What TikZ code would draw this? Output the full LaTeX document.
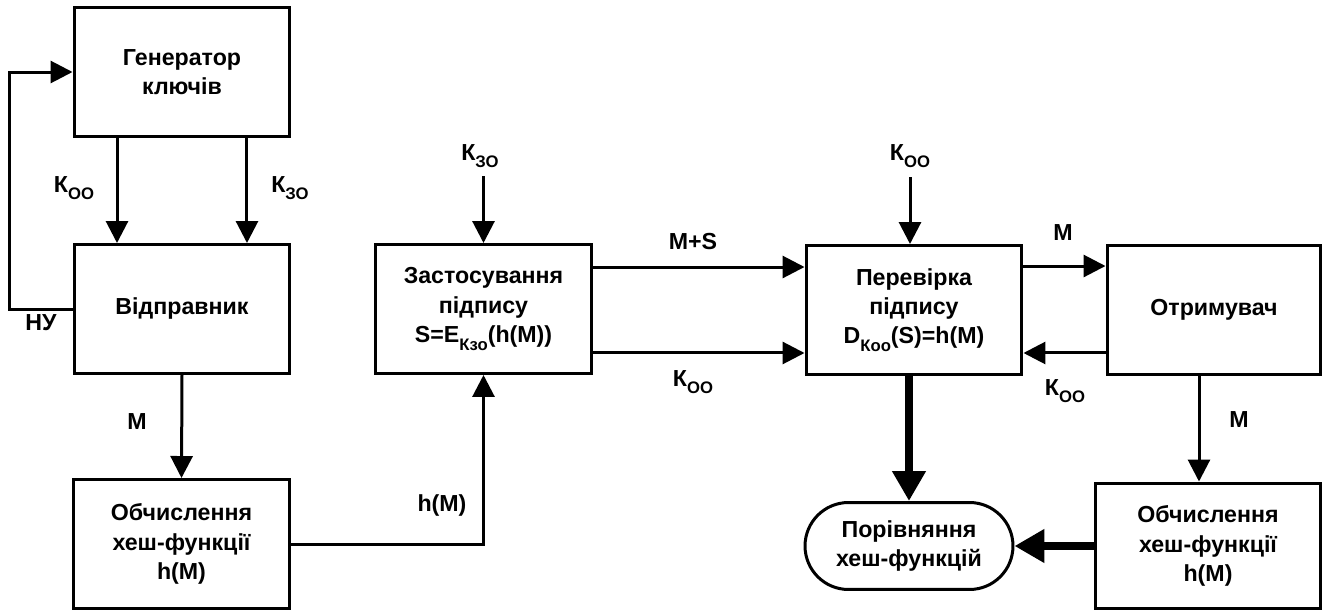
\documentclass[tikz,border=0pt]{standalone}
\usepackage{fontspec}
\setmainfont{Liberation Sans}
\usetikzlibrary{arrows.meta, positioning, calc}

\newcommand{\sbs}[1]{\raisebox{-0.32em}{\fontsize{9.5}{9.5}\selectfont #1}}

\tikzset{
  box/.style={draw, line width=0.06cm, fill=white, align=center,
    minimum width=4.32cm, minimum height=2.58cm, inner sep=2pt},
  term/.style={draw, line width=0.06cm, fill=white, align=center,
    minimum width=4.16cm, minimum height=1.74cm, rounded corners=0.87cm},
  arr/.style={line width=0.06cm, -{Triangle[length=0.44cm,width=0.44cm]}},
  bigarr/.style={line width=0.16cm, -{Triangle[length=0.6cm,width=0.64cm]}},
  lbl/.style={inner sep=1pt},
}

\begin{document}
\begin{tikzpicture}[x=0.02cm, y=-0.02cm,
    font=\fontsize{13.2}{16.7}\selectfont\bfseries]
  \useasboundingbox (0,0) rectangle (1323,612);

  % sender side
  \node[box] (gen) at (182,72) {Генератор\\ключів};
  \node[box] (sender) at (182,309) {Відправник};
  \node[box] (hash1) at (181.5,544) {Обчислення\\хеш-функції\\h(M)};
  \node[box] (sign) at (483.5,309)
    {Застосування\\підпису\\S=E\sbs{Кзо}(h(M))};

  % receiver side
  \node[box] (verify) at (914,310)
    {Перевірка\\підпису\\D\sbs{Коо}(S)=h(M)};
  \node[box, minimum width=4.28cm] (recv) at (1214,310) {Отримувач};
  \node[box, minimum width=4.52cm, minimum height=2.52cm] (hash2) at (1208,546)
    {Обчислення\\хеш-функції\\h(M)};
  \node[term] (cmp) at (909,546) {Порівняння\\хеш-функцій};

  % keys from generator
  \draw[arr] ([xshift=-1.3cm]gen.south) -- ([xshift=-1.3cm]sender.north);
  \draw[arr] ([xshift=1.3cm]gen.south) -- ([xshift=1.3cm]sender.north);
  \node[lbl] (koo1) at (74,188) {К\sbs{ОО}};
  \node[lbl] (kzo1) at (290,188) {К\sbs{ЗО}};

  % feedback loop
  \draw[arr] (sender.west) -- ++(-63,0) |- (gen.west);
  \node[lbl] (ny) at (41,323) {НУ};

  % message to hash
  \draw[arr] (sender.south) -- (hash1.north);
  \node[lbl] (m1) at (137,422) {M};
  \draw[arr] (hash1.east) -| (sign.south);
  \node[lbl] (hm) at (442,505) {h(M)};

  % signing
  \draw[arr] ([yshift=1.34cm]sign.north) -- (sign.north);
  \node[lbl] (kzo2) at (480,156) {К\sbs{ЗО}};
  \draw[arr] ([yshift=0.84cm]sign.east) -- ([yshift=0.84cm]sign.east -| verify.west);
  \node[lbl] (ms) at (693,242) {M+S};
  \draw[arr] ([yshift=-0.88cm]sign.east) -- ([yshift=-0.88cm]sign.east -| verify.west);
  \node[lbl] (koo2) at (693,382) {К\sbs{ОО}};

  % verification
  \draw[arr] ([xshift=-0.08cm,yshift=1.34cm]verify.north) -- ([xshift=-0.08cm]verify.north);
  \node[lbl] (koo3) at (910,156) {К\sbs{ОО}};
  \draw[arr] ([yshift=0.88cm]verify.east) -- ([yshift=0.88cm]verify.east -| recv.west);
  \node[lbl] (m2) at (1063,233) {M};
  \draw[arr] ([yshift=-0.86cm]recv.west) -- ([yshift=-0.86cm]recv.west -| verify.east);
  \node[lbl] (koo4) at (1065,391) {К\sbs{ОО}};

  % comparison
  \draw[arr] ([xshift=-0.3cm]recv.south) -- ([xshift=-0.3cm]recv.south |- hash2.north);
  \node[lbl] (m3) at (1239,420) {M};
  \draw[bigarr] (verify.south -| cmp.north) -- (cmp.north);
  \draw[bigarr] (hash2.west) -- (cmp.east);
\end{tikzpicture}
\end{document}
